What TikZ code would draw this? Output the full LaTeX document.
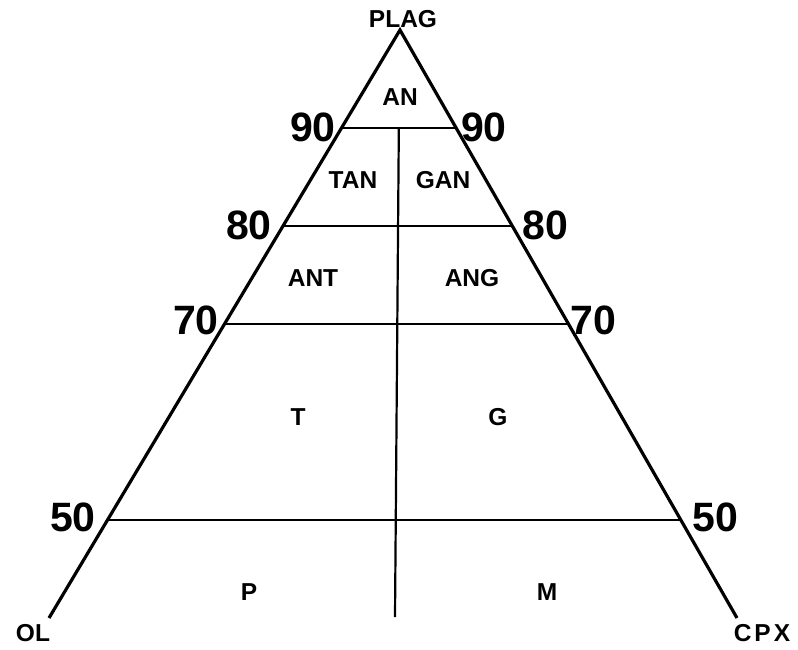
\documentclass[tikz,border=0pt]{standalone}
\usepackage{fontspec}
\setmainfont{Liberation Sans}
\usetikzlibrary{calc}
\begin{document}
\begin{tikzpicture}[x=1pt,y=-1pt,
  side/.style={line width=3.2pt,line join=miter},
  tie/.style={line width=2.2pt},
  field/.style={font=\fontsize{24.5}{24.5}\selectfont\bfseries,inner sep=0pt},
  pct/.style={font=\fontsize{41}{41}\selectfont\bfseries,inner sep=0pt}]
\useasboundingbox (0,0) rectangle (798,649);
\coordinate (apex) at (400,30);
\coordinate (olend) at (49,618);
\coordinate (cpxend) at (737,618);
\draw[side] (olend) -- (apex) -- (cpxend);
\foreach \n/\t in {90/0.16667,80/0.33333,70/0.5,50/0.83333}{
  \coordinate (L\n) at ($(apex)!\t!(olend)$);
  \coordinate (R\n) at ($(apex)!\t!(cpxend)$);
  \draw[tie] (L\n) -- (R\n);
}
\coordinate (vtop) at ($(L90)!0.5!(R90)$);
\coordinate (vbot) at (395,617);
\draw[tie] (vtop) -- (vbot);
% vertex labels
\node[field] (plag) at (403,19) {PLAG};
\node[field] (ol) at (33,633) {OL};
\node[field] (cpx) at (762,633) {C\kern3ptP\kern3ptX};
% fields
\node[field] (an) at (400,97) {AN};
\node[field] (tan) at (353,180) {TAN};
\node[field] (gan) at (443,180) {GAN};
\node[field] (ant) at (313,278) {ANT};
\node[field] (ang) at (472,278) {ANG};
\node[field] (t) at (298,417) {T};
\node[field] (g) at (498,417) {G};
\node[field] (p) at (249,592) {P};
\node[field] (m) at (547,592) {M};
% percentages
\node[pct] (l90) at (313,127) {90};
\node[pct] (r90) at (484,127) {90};
\node[pct] (l80) at (249,225) {80};
\node[pct] (r80) at (545,225) {80};
\node[pct] (l70) at (196,320) {70};
\node[pct] (r70) at (593,320) {70};
\node[pct] (l50) at (73,517) {50};
\node[pct] (r50) at (715,517) {50};
\end{tikzpicture}
\end{document}
